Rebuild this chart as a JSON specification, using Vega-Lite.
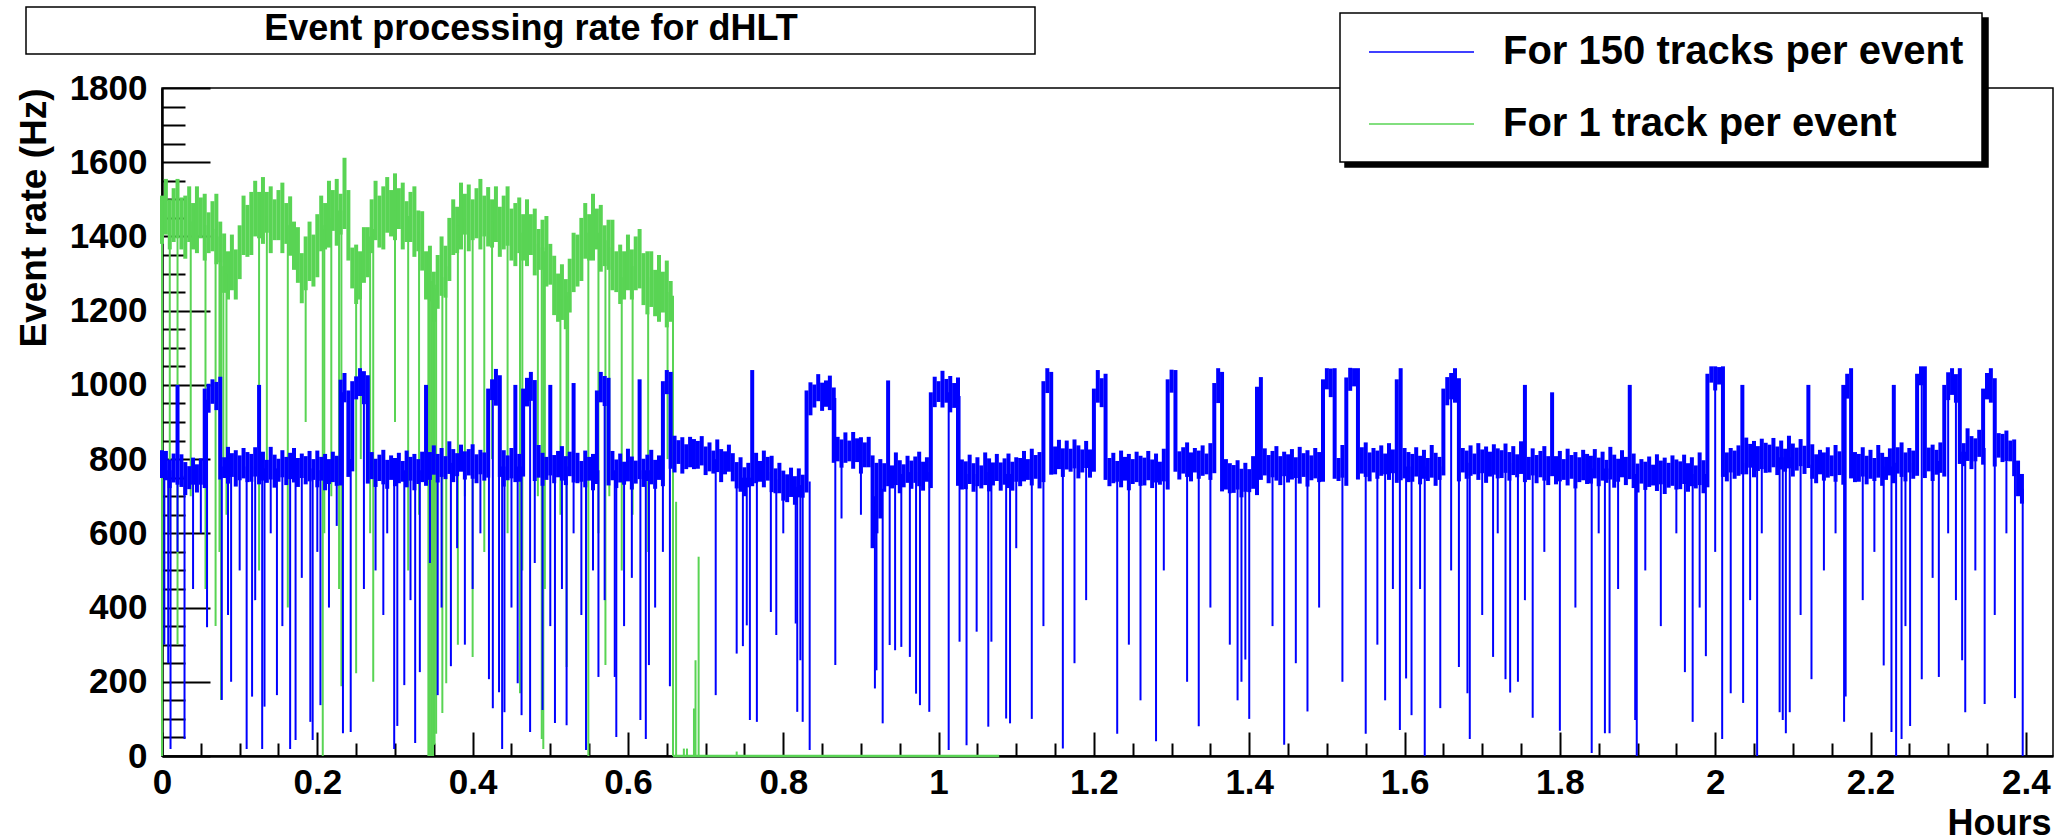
{
"$schema":"https://vega.github.io/schema/vega-lite/v6.json",
"width":1891,"height":668,
"autosize":{"type":"none"},
"padding":{"left":162,"top":88,"right":12,"bottom":81},
"background":"white",
"config":{
"font":"Liberation Sans",
"view":{"stroke":"black","strokeWidth":1.5},
"axis":{"grid":false,"domainColor":"black","domainWidth":2.5,"tickColor":"black","tickWidth":2,"labelFont":"Liberation Sans","labelFontWeight":"bold","labelFontSize":35,"labelColor":"black","titleFont":"Liberation Sans","titleFontWeight":"bold","titleColor":"black","labelOverlap":false,"labelFlush":false,"labelBound":false,"zindex":1},
"legend":{"orient":"none","legendX":1178,"legendY":-75,"strokeColor":"black","strokeWidth":1.5,"fillColor":"white","padding":18,"symbolType":"M-0.5,0H4.75","symbolSize":1600,"symbolStrokeWidth":1.5,"labelFont":"Liberation Sans","labelFontWeight":"bold","labelFontSize":40,"labelColor":"black","labelOffset":103,"rowPadding":31,"labelLimit":900}
},
"datasets":{
"greenBand":[
{"t":0,"l":1380,"h":1510},{"t":0.005,"l":1405,"h":1555},{"t":0.01,"l":1365,"h":1500},{"t":0.015,"l":1385,"h":1530},{"t":0.02,"l":1395,"h":1555},{"t":0.025,"l":1365,"h":1505},{"t":0.03,"l":1340,"h":1510},{"t":0.035,"l":1385,"h":1535},{"t":0.04,"l":1365,"h":1490},{"t":0.045,"l":1355,"h":1535},{"t":0.05,"l":1395,"h":1505},{"t":0.055,"l":1335,"h":1515},{"t":0.06,"l":1355,"h":1465},{"t":0.065,"l":1360,"h":1495},{"t":0.07,"l":1325,"h":1515},{"t":0.075,"l":1330,"h":1440},{"t":0.08,"l":1248,"h":1408},{"t":0.085,"l":1230,"h":1360},{"t":0.09,"l":1255,"h":1405},{"t":0.095,"l":1230,"h":1365},{"t":0.1,"l":1285,"h":1430},{"t":0.105,"l":1350,"h":1510},{"t":0.11,"l":1345,"h":1485},{"t":0.115,"l":1350,"h":1520},{"t":0.12,"l":1400,"h":1550},{"t":0.125,"l":1395,"h":1520},{"t":0.13,"l":1380,"h":1560},{"t":0.135,"l":1410,"h":1520},{"t":0.14,"l":1355,"h":1535},{"t":0.145,"l":1390,"h":1500},{"t":0.15,"l":1390,"h":1525},{"t":0.155,"l":1355,"h":1545},{"t":0.16,"l":1380,"h":1490},{"t":0.165,"l":1348,"h":1508},{"t":0.17,"l":1310,"h":1440},{"t":0.175,"l":1275,"h":1425},{"t":0.18,"l":1220,"h":1355},{"t":0.185,"l":1255,"h":1400},{"t":0.19,"l":1280,"h":1440},{"t":0.195,"l":1265,"h":1405},{"t":0.2,"l":1290,"h":1460},{"t":0.205,"l":1360,"h":1510},{"t":0.21,"l":1365,"h":1490},{"t":0.215,"l":1370,"h":1550},{"t":0.22,"l":1415,"h":1525},{"t":0.225,"l":1375,"h":1555},{"t":0.23,"l":1405,"h":1515},{"t":0.235,"l":1420,"h":1612},{"t":0.24,"l":1335,"h":1525},{"t":0.245,"l":1260,"h":1370},{"t":0.25,"l":1218,"h":1378},{"t":0.255,"l":1230,"h":1360},{"t":0.26,"l":1275,"h":1425},{"t":0.265,"l":1290,"h":1425},{"t":0.27,"l":1355,"h":1500},{"t":0.275,"l":1390,"h":1550},{"t":0.28,"l":1370,"h":1510},{"t":0.285,"l":1365,"h":1535},{"t":0.29,"l":1410,"h":1560},{"t":0.295,"l":1400,"h":1525},{"t":0.3,"l":1390,"h":1570},{"t":0.305,"l":1420,"h":1530},{"t":0.31,"l":1365,"h":1545},{"t":0.315,"l":1385,"h":1495},{"t":0.32,"l":1385,"h":1520},{"t":0.325,"l":1345,"h":1535},{"t":0.33,"l":1360,"h":1470},{"t":0.335,"l":1308,"h":1468},{"t":0.34,"l":1230,"h":1360},{"t":0.345,"l":1225,"h":1375},{"t":0.35,"l":1170,"h":1305},{"t":0.355,"l":1205,"h":1350},{"t":0.36,"l":1240,"h":1400},{"t":0.365,"l":1235,"h":1375},{"t":0.37,"l":1280,"h":1450},{"t":0.375,"l":1350,"h":1500},{"t":0.38,"l":1355,"h":1480},{"t":0.385,"l":1365,"h":1545},{"t":0.39,"l":1405,"h":1515},{"t":0.395,"l":1360,"h":1540},{"t":0.4,"l":1390,"h":1500},{"t":0.405,"l":1395,"h":1530},{"t":0.41,"l":1365,"h":1555},{"t":0.415,"l":1400,"h":1510},{"t":0.42,"l":1373,"h":1533},{"t":0.425,"l":1370,"h":1500},{"t":0.43,"l":1385,"h":1535},{"t":0.435,"l":1345,"h":1480},{"t":0.44,"l":1365,"h":1510},{"t":0.445,"l":1375,"h":1535},{"t":0.45,"l":1335,"h":1475},{"t":0.455,"l":1320,"h":1490},{"t":0.46,"l":1355,"h":1505},{"t":0.465,"l":1335,"h":1460},{"t":0.47,"l":1320,"h":1500},{"t":0.475,"l":1350,"h":1460},{"t":0.48,"l":1295,"h":1475},{"t":0.485,"l":1310,"h":1420},{"t":0.49,"l":1310,"h":1445},{"t":0.495,"l":1265,"h":1455},{"t":0.5,"l":1270,"h":1380},{"t":0.505,"l":1188,"h":1348},{"t":0.51,"l":1170,"h":1300},{"t":0.515,"l":1175,"h":1325},{"t":0.52,"l":1150,"h":1285},{"t":0.525,"l":1195,"h":1340},{"t":0.53,"l":1250,"h":1410},{"t":0.535,"l":1265,"h":1405},{"t":0.54,"l":1280,"h":1450},{"t":0.545,"l":1340,"h":1490},{"t":0.55,"l":1335,"h":1460},{"t":0.555,"l":1335,"h":1515},{"t":0.56,"l":1365,"h":1475},{"t":0.565,"l":1305,"h":1485},{"t":0.57,"l":1320,"h":1430},{"t":0.575,"l":1310,"h":1445},{"t":0.58,"l":1255,"h":1445},{"t":0.585,"l":1250,"h":1360},{"t":0.59,"l":1218,"h":1378},{"t":0.595,"l":1230,"h":1360},{"t":0.6,"l":1255,"h":1405},{"t":0.605,"l":1230,"h":1365},{"t":0.61,"l":1255,"h":1400},{"t":0.615,"l":1260,"h":1420},{"t":0.62,"l":1215,"h":1355},{"t":0.625,"l":1190,"h":1360},{"t":0.63,"l":1210,"h":1360},{"t":0.635,"l":1185,"h":1310},{"t":0.64,"l":1170,"h":1350},{"t":0.645,"l":1195,"h":1305},{"t":0.65,"l":1155,"h":1335},{"t":0.655,"l":1170,"h":1280}
],
"greenDips":[
{"t":0,"l":0,"h":1450},{"t":0.01,"l":600,"h":1450},{"t":0.02,"l":300,"h":1445},{"t":0.037,"l":700,"h":1440},{"t":0.056,"l":450,"h":1430},{"t":0.069,"l":350,"h":1420},{"t":0.074,"l":550,"h":1400},{"t":0.076,"l":151,"h":1380},{"t":0.079,"l":800,"h":1320},{"t":0.083,"l":650,"h":1300},{"t":0.125,"l":500,"h":1470},{"t":0.135,"l":750,"h":1455},{"t":0.162,"l":400,"h":1430},{"t":0.185,"l":900,"h":1320},{"t":0.207,"l":0,"h":1420},{"t":0.209,"l":600,"h":1430},{"t":0.218,"l":700,"h":1450},{"t":0.228,"l":450,"h":1470},{"t":0.231,"l":188,"h":1470},{"t":0.25,"l":223,"h":1290},{"t":0.256,"l":800,"h":1300},{"t":0.268,"l":600,"h":1400},{"t":0.272,"l":200,"h":1420},{"t":0.3,"l":900,"h":1470},{"t":0.317,"l":500,"h":1455},{"t":0.331,"l":650,"h":1410},{"t":0.343,"l":0,"h":1300},{"t":0.345,"l":0,"h":1280},{"t":0.347,"l":0,"h":1280},{"t":0.349,"l":0,"h":1260},{"t":0.351,"l":30,"h":1260},{"t":0.353,"l":60,"h":1270},{"t":0.361,"l":116,"h":1290},{"t":0.366,"l":196,"h":1320},{"t":0.381,"l":300,"h":1430},{"t":0.39,"l":700,"h":1450},{"t":0.4,"l":267,"h":1460},{"t":0.415,"l":550,"h":1450},{"t":0.425,"l":800,"h":1440},{"t":0.445,"l":600,"h":1425},{"t":0.461,"l":169,"h":1415},{"t":0.464,"l":500,"h":1410},{"t":0.484,"l":700,"h":1380},{"t":0.489,"l":46,"h":1370},{"t":0.491,"l":19,"h":1370},{"t":0.493,"l":450,"h":1360},{"t":0.513,"l":650,"h":1230},{"t":0.521,"l":240,"h":1240},{"t":0.523,"l":800,"h":1250},{"t":0.549,"l":0,"h":1410},{"t":0.562,"l":600,"h":1410},{"t":0.571,"l":245,"h":1390},{"t":0.576,"l":700,"h":1370},{"t":0.592,"l":500,"h":1290},{"t":0.606,"l":650,"h":1320},{"t":0.626,"l":550,"h":1290},{"t":0.651,"l":800,"h":1250},{"t":0.658,"l":0,"h":1240},
{"t":0.662,"l":0,"h":685},{"t":0.672,"l":0,"h":20},{"t":0.676,"l":0,"h":20},{"t":0.685,"l":0,"h":128},{"t":0.687,"l":0,"h":258},{"t":0.691,"l":0,"h":537},{"t":0.74,"l":0,"h":12}
],
"greenZero":[{"t":0.658,"t2":1.078,"l":0,"h":0}],
"blueBand":[
{"t":0,"l":749,"h":824},{"t":0.005,"l":743,"h":822},{"t":0.01,"l":722,"h":799},{"t":0.015,"l":737,"h":815},{"t":0.02,"l":731,"h":1000},{"t":0.025,"l":725,"h":813},{"t":0.03,"l":703,"h":792},{"t":0.035,"l":719,"h":781},{"t":0.04,"l":731,"h":804},{"t":0.045,"l":710,"h":786},{"t":0.05,"l":731,"h":802},{"t":0.055,"l":722,"h":990},{"t":0.06,"l":925,"h":1003},{"t":0.065,"l":949,"h":1015},{"t":0.07,"l":932,"h":1008},{"t":0.075,"l":745,"h":1022},{"t":0.08,"l":749,"h":805},{"t":0.085,"l":734,"h":833},{"t":0.09,"l":752,"h":816},{"t":0.095,"l":726,"h":824},{"t":0.1,"l":743,"h":810},{"t":0.105,"l":748,"h":830},{"t":0.11,"l":738,"h":819},{"t":0.115,"l":739,"h":814},{"t":0.12,"l":753,"h":832},{"t":0.125,"l":732,"h":1000},{"t":0.13,"l":742,"h":820},{"t":0.135,"l":736,"h":798},{"t":0.14,"l":745,"h":833},{"t":0.145,"l":723,"h":812},{"t":0.15,"l":739,"h":801},{"t":0.155,"l":751,"h":824},{"t":0.16,"l":730,"h":806},{"t":0.165,"l":746,"h":817},{"t":0.17,"l":737,"h":830},{"t":0.175,"l":725,"h":803},{"t":0.18,"l":749,"h":815},{"t":0.185,"l":732,"h":808},{"t":0.19,"l":740,"h":822},{"t":0.195,"l":744,"h":800},{"t":0.2,"l":724,"h":823},{"t":0.205,"l":742,"h":806},{"t":0.21,"l":716,"h":814},{"t":0.215,"l":733,"h":800},{"t":0.22,"l":738,"h":820},{"t":0.225,"l":728,"h":809},{"t":0.23,"l":729,"h":1014},{"t":0.235,"l":953,"h":1032},{"t":0.24,"l":752,"h":985},{"t":0.245,"l":767,"h":1010},{"t":0.25,"l":961,"h":1023},{"t":0.255,"l":970,"h":1045},{"t":0.26,"l":948,"h":1037},{"t":0.265,"l":734,"h":1026},{"t":0.27,"l":746,"h":819},{"t":0.275,"l":725,"h":801},{"t":0.28,"l":741,"h":812},{"t":0.285,"l":732,"h":825},{"t":0.29,"l":720,"h":798},{"t":0.295,"l":744,"h":810},{"t":0.3,"l":727,"h":803},{"t":0.305,"l":735,"h":817},{"t":0.31,"l":739,"h":795},{"t":0.315,"l":724,"h":823},{"t":0.32,"l":742,"h":806},{"t":0.325,"l":716,"h":814},{"t":0.33,"l":733,"h":800},{"t":0.335,"l":738,"h":820},{"t":0.34,"l":728,"h":1000},{"t":0.345,"l":744,"h":819},{"t":0.35,"l":758,"h":837},{"t":0.355,"l":737,"h":814},{"t":0.36,"l":752,"h":830},{"t":0.365,"l":746,"h":808},{"t":0.37,"l":760,"h":848},{"t":0.375,"l":738,"h":827},{"t":0.38,"l":754,"h":816},{"t":0.385,"l":766,"h":839},{"t":0.39,"l":745,"h":821},{"t":0.395,"l":756,"h":827},{"t":0.4,"l":747,"h":840},{"t":0.405,"l":735,"h":813},{"t":0.41,"l":759,"h":825},{"t":0.415,"l":742,"h":818},{"t":0.42,"l":750,"h":990},{"t":0.425,"l":959,"h":1015},{"t":0.43,"l":944,"h":1043},{"t":0.435,"l":752,"h":1026},{"t":0.44,"l":726,"h":824},{"t":0.445,"l":743,"h":810},{"t":0.45,"l":748,"h":830},{"t":0.455,"l":738,"h":1000},{"t":0.46,"l":739,"h":814},{"t":0.465,"l":753,"h":990},{"t":0.47,"l":942,"h":1019},{"t":0.475,"l":957,"h":1035},{"t":0.48,"l":741,"h":1013},{"t":0.485,"l":750,"h":838},{"t":0.49,"l":728,"h":817},{"t":0.495,"l":744,"h":806},{"t":0.5,"l":756,"h":1000},{"t":0.505,"l":735,"h":811},{"t":0.51,"l":751,"h":822},{"t":0.515,"l":742,"h":835},{"t":0.52,"l":730,"h":808},{"t":0.525,"l":754,"h":820},{"t":0.53,"l":737,"h":1005},{"t":0.535,"l":735,"h":817},{"t":0.54,"l":739,"h":795},{"t":0.545,"l":724,"h":823},{"t":0.55,"l":742,"h":806},{"t":0.555,"l":716,"h":814},{"t":0.56,"l":733,"h":985},{"t":0.565,"l":953,"h":1035},{"t":0.57,"l":943,"h":1024},{"t":0.575,"l":729,"h":1019},{"t":0.58,"l":743,"h":822},{"t":0.585,"l":722,"h":799},{"t":0.59,"l":737,"h":815},{"t":0.595,"l":731,"h":793},{"t":0.6,"l":740,"h":828},{"t":0.605,"l":718,"h":807},{"t":0.61,"l":734,"h":796},{"t":0.615,"l":746,"h":1015},{"t":0.62,"l":725,"h":801},{"t":0.625,"l":741,"h":812},{"t":0.63,"l":732,"h":825},{"t":0.635,"l":720,"h":798},{"t":0.64,"l":744,"h":810},{"t":0.645,"l":727,"h":1010},{"t":0.65,"l":975,"h":1040},{"t":0.655,"l":774,"h":1035},{"t":0.66,"l":764,"h":863},{"t":0.665,"l":787,"h":851},{"t":0.67,"l":761,"h":859},{"t":0.675,"l":773,"h":840},{"t":0.68,"l":778,"h":860},{"t":0.685,"l":773,"h":854},{"t":0.69,"l":774,"h":849},{"t":0.695,"l":783,"h":862},{"t":0.7,"l":757,"h":834},{"t":0.705,"l":767,"h":845},{"t":0.71,"l":761,"h":823},{"t":0.715,"l":765,"h":853},{"t":0.72,"l":738,"h":827},{"t":0.725,"l":759,"h":821},{"t":0.73,"l":766,"h":839},{"t":0.735,"l":740,"h":816},{"t":0.74,"l":721,"h":792},{"t":0.745,"l":712,"h":805},{"t":0.75,"l":700,"h":778},{"t":0.755,"l":724,"h":790},{"t":0.76,"l":727,"h":1040},{"t":0.765,"l":735,"h":817},{"t":0.77,"l":739,"h":795},{"t":0.775,"l":724,"h":823},{"t":0.78,"l":742,"h":806},{"t":0.785,"l":711,"h":809},{"t":0.79,"l":708,"h":775},{"t":0.795,"l":708,"h":790},{"t":0.8,"l":688,"h":769},{"t":0.805,"l":684,"h":759},{"t":0.81,"l":698,"h":777},{"t":0.815,"l":677,"h":754},{"t":0.82,"l":697,"h":775},{"t":0.825,"l":696,"h":758},{"t":0.83,"l":710,"h":985},{"t":0.835,"l":918,"h":1007},{"t":0.84,"l":939,"h":1001},{"t":0.845,"l":956,"h":1029},{"t":0.85,"l":930,"h":1006},{"t":0.855,"l":941,"h":1012},{"t":0.86,"l":932,"h":1025},{"t":0.865,"l":790,"h":993},{"t":0.87,"l":794,"h":860},{"t":0.875,"l":777,"h":853},{"t":0.88,"l":790,"h":872},{"t":0.885,"l":794,"h":850},{"t":0.89,"l":774,"h":873},{"t":0.895,"l":792,"h":856},{"t":0.9,"l":761,"h":859},{"t":0.905,"l":778,"h":845},{"t":0.91,"l":778,"h":860},{"t":0.915,"l":560,"h":810},{"t":0.92,"l":600,"h":790},{"t":0.925,"l":640,"h":800},{"t":0.93,"l":712,"h":789},{"t":0.935,"l":727,"h":1012},{"t":0.94,"l":721,"h":783},{"t":0.945,"l":730,"h":818},{"t":0.95,"l":708,"h":797},{"t":0.955,"l":724,"h":786},{"t":0.96,"l":736,"h":809},{"t":0.965,"l":720,"h":796},{"t":0.97,"l":736,"h":807},{"t":0.975,"l":727,"h":820},{"t":0.98,"l":715,"h":793},{"t":0.985,"l":739,"h":805},{"t":0.99,"l":722,"h":980},{"t":0.995,"l":940,"h":1022},{"t":1,"l":954,"h":1010},{"t":1.005,"l":939,"h":1038},{"t":1.01,"l":952,"h":1016},{"t":1.015,"l":926,"h":1024},{"t":1.02,"l":938,"h":1005},{"t":1.025,"l":728,"h":1020},{"t":1.03,"l":718,"h":799},{"t":1.035,"l":719,"h":794},{"t":1.04,"l":733,"h":812},{"t":1.045,"l":712,"h":789},{"t":1.05,"l":727,"h":805},{"t":1.055,"l":721,"h":783},{"t":1.06,"l":730,"h":818},{"t":1.065,"l":713,"h":802},{"t":1.07,"l":729,"h":791},{"t":1.075,"l":741,"h":814},{"t":1.08,"l":715,"h":791},{"t":1.085,"l":731,"h":802},{"t":1.09,"l":722,"h":815},{"t":1.095,"l":715,"h":793},{"t":1.1,"l":739,"h":805},{"t":1.105,"l":727,"h":803},{"t":1.11,"l":740,"h":822},{"t":1.115,"l":744,"h":800},{"t":1.12,"l":729,"h":828},{"t":1.125,"l":747,"h":811},{"t":1.13,"l":721,"h":819},{"t":1.135,"l":738,"h":1010},{"t":1.14,"l":978,"h":1045},{"t":1.145,"l":758,"h":1035},{"t":1.15,"l":759,"h":834},{"t":1.155,"l":773,"h":852},{"t":1.16,"l":752,"h":829},{"t":1.165,"l":772,"h":850},{"t":1.17,"l":766,"h":828},{"t":1.175,"l":775,"h":853},{"t":1.18,"l":748,"h":837},{"t":1.185,"l":764,"h":826},{"t":1.19,"l":776,"h":849},{"t":1.195,"l":750,"h":826},{"t":1.2,"l":766,"h":990},{"t":1.205,"l":952,"h":1040},{"t":1.21,"l":940,"h":1018},{"t":1.215,"l":744,"h":1030},{"t":1.22,"l":727,"h":803},{"t":1.225,"l":735,"h":817},{"t":1.23,"l":739,"h":795},{"t":1.235,"l":724,"h":823},{"t":1.24,"l":742,"h":806},{"t":1.245,"l":716,"h":814},{"t":1.25,"l":733,"h":800},{"t":1.255,"l":738,"h":820},{"t":1.26,"l":728,"h":809},{"t":1.265,"l":729,"h":804},{"t":1.27,"l":743,"h":822},{"t":1.275,"l":722,"h":799},{"t":1.28,"l":737,"h":815},{"t":1.285,"l":731,"h":793},{"t":1.29,"l":740,"h":828},{"t":1.295,"l":718,"h":1015},{"t":1.3,"l":979,"h":1041},{"t":1.305,"l":766,"h":1040},{"t":1.31,"l":745,"h":821},{"t":1.315,"l":761,"h":832},{"t":1.32,"l":752,"h":845},{"t":1.325,"l":740,"h":818},{"t":1.33,"l":764,"h":830},{"t":1.335,"l":747,"h":823},{"t":1.34,"l":755,"h":837},{"t":1.345,"l":759,"h":815},{"t":1.35,"l":744,"h":843},{"t":1.355,"l":762,"h":1005},{"t":1.36,"l":951,"h":1045},{"t":1.365,"l":713,"h":1035},{"t":1.37,"l":718,"h":800},{"t":1.375,"l":708,"h":789},{"t":1.38,"l":709,"h":784},{"t":1.385,"l":718,"h":797},{"t":1.39,"l":697,"h":774},{"t":1.395,"l":712,"h":790},{"t":1.4,"l":711,"h":773},{"t":1.405,"l":720,"h":808},{"t":1.41,"l":703,"h":995},{"t":1.415,"l":744,"h":1021},{"t":1.42,"l":756,"h":829},{"t":1.425,"l":735,"h":811},{"t":1.43,"l":751,"h":822},{"t":1.435,"l":742,"h":835},{"t":1.44,"l":730,"h":808},{"t":1.445,"l":754,"h":820},{"t":1.45,"l":737,"h":813},{"t":1.455,"l":745,"h":827},{"t":1.46,"l":749,"h":805},{"t":1.465,"l":734,"h":833},{"t":1.47,"l":752,"h":816},{"t":1.475,"l":726,"h":824},{"t":1.48,"l":743,"h":810},{"t":1.485,"l":748,"h":830},{"t":1.49,"l":738,"h":819},{"t":1.495,"l":739,"h":1015},{"t":1.5,"l":988,"h":1045},{"t":1.505,"l":967,"h":1044},{"t":1.51,"l":747,"h":1045},{"t":1.515,"l":741,"h":803},{"t":1.52,"l":750,"h":838},{"t":1.525,"l":728,"h":1020},{"t":1.53,"l":984,"h":1046},{"t":1.535,"l":996,"h":1045},{"t":1.54,"l":745,"h":1045},{"t":1.545,"l":761,"h":832},{"t":1.55,"l":752,"h":845},{"t":1.555,"l":740,"h":818},{"t":1.56,"l":764,"h":830},{"t":1.565,"l":747,"h":823},{"t":1.57,"l":755,"h":837},{"t":1.575,"l":759,"h":815},{"t":1.58,"l":744,"h":843},{"t":1.585,"l":762,"h":826},{"t":1.59,"l":736,"h":1015},{"t":1.595,"l":743,"h":1045},{"t":1.6,"l":748,"h":830},{"t":1.605,"l":738,"h":819},{"t":1.61,"l":739,"h":814},{"t":1.615,"l":753,"h":832},{"t":1.62,"l":732,"h":809},{"t":1.625,"l":747,"h":825},{"t":1.63,"l":741,"h":803},{"t":1.635,"l":750,"h":838},{"t":1.64,"l":728,"h":817},{"t":1.645,"l":744,"h":806},{"t":1.65,"l":756,"h":990},{"t":1.655,"l":945,"h":1021},{"t":1.66,"l":961,"h":1032},{"t":1.665,"l":952,"h":1045},{"t":1.67,"l":740,"h":1018},{"t":1.675,"l":764,"h":830},{"t":1.68,"l":747,"h":823},{"t":1.685,"l":755,"h":837},{"t":1.69,"l":759,"h":815},{"t":1.695,"l":744,"h":843},{"t":1.7,"l":762,"h":826},{"t":1.705,"l":736,"h":834},{"t":1.71,"l":753,"h":820},{"t":1.715,"l":758,"h":840},{"t":1.72,"l":748,"h":829},{"t":1.725,"l":749,"h":824},{"t":1.73,"l":763,"h":842},{"t":1.735,"l":742,"h":819},{"t":1.74,"l":757,"h":835},{"t":1.745,"l":751,"h":813},{"t":1.75,"l":760,"h":848},{"t":1.755,"l":738,"h":1000},{"t":1.76,"l":744,"h":806},{"t":1.765,"l":756,"h":829},{"t":1.77,"l":735,"h":811},{"t":1.775,"l":751,"h":822},{"t":1.78,"l":742,"h":835},{"t":1.785,"l":730,"h":808},{"t":1.79,"l":754,"h":980},{"t":1.795,"l":732,"h":808},{"t":1.8,"l":740,"h":822},{"t":1.805,"l":744,"h":800},{"t":1.81,"l":729,"h":828},{"t":1.815,"l":747,"h":811},{"t":1.82,"l":721,"h":819},{"t":1.825,"l":738,"h":805},{"t":1.83,"l":743,"h":825},{"t":1.835,"l":733,"h":814},{"t":1.84,"l":734,"h":809},{"t":1.845,"l":748,"h":827},{"t":1.85,"l":727,"h":804},{"t":1.855,"l":742,"h":820},{"t":1.86,"l":736,"h":798},{"t":1.865,"l":745,"h":833},{"t":1.87,"l":723,"h":812},{"t":1.875,"l":739,"h":801},{"t":1.88,"l":751,"h":824},{"t":1.885,"l":730,"h":806},{"t":1.89,"l":746,"h":1000},{"t":1.895,"l":722,"h":815},{"t":1.9,"l":710,"h":788},{"t":1.905,"l":734,"h":800},{"t":1.91,"l":717,"h":793},{"t":1.915,"l":725,"h":807},{"t":1.92,"l":729,"h":785},{"t":1.925,"l":714,"h":813},{"t":1.93,"l":732,"h":796},{"t":1.935,"l":706,"h":804},{"t":1.94,"l":723,"h":790},{"t":1.945,"l":728,"h":810},{"t":1.95,"l":718,"h":799},{"t":1.955,"l":719,"h":794},{"t":1.96,"l":733,"h":812},{"t":1.965,"l":712,"h":789},{"t":1.97,"l":727,"h":805},{"t":1.975,"l":721,"h":783},{"t":1.98,"l":730,"h":818},{"t":1.985,"l":708,"h":797},{"t":1.99,"l":724,"h":1030},{"t":1.995,"l":1006,"h":1050},{"t":2,"l":985,"h":1050},{"t":2.005,"l":1001,"h":1048},{"t":2.01,"l":752,"h":1050},{"t":2.015,"l":740,"h":818},{"t":2.02,"l":764,"h":830},{"t":2.025,"l":747,"h":823},{"t":2.03,"l":755,"h":837},{"t":2.035,"l":759,"h":1000},{"t":2.04,"l":759,"h":858},{"t":2.045,"l":777,"h":841},{"t":2.05,"l":751,"h":849},{"t":2.055,"l":768,"h":835},{"t":2.06,"l":773,"h":855},{"t":2.065,"l":763,"h":844},{"t":2.07,"l":764,"h":839},{"t":2.075,"l":778,"h":857},{"t":2.08,"l":757,"h":834},{"t":2.085,"l":772,"h":850},{"t":2.09,"l":766,"h":828},{"t":2.095,"l":775,"h":863},{"t":2.1,"l":753,"h":842},{"t":2.105,"l":769,"h":831},{"t":2.11,"l":781,"h":854},{"t":2.115,"l":760,"h":836},{"t":2.12,"l":776,"h":1000},{"t":2.125,"l":747,"h":840},{"t":2.13,"l":735,"h":813},{"t":2.135,"l":759,"h":825},{"t":2.14,"l":742,"h":818},{"t":2.145,"l":750,"h":832},{"t":2.15,"l":754,"h":810},{"t":2.155,"l":739,"h":838},{"t":2.16,"l":757,"h":821},{"t":2.165,"l":731,"h":1000},{"t":2.17,"l":963,"h":1030},{"t":2.175,"l":748,"h":1045},{"t":2.18,"l":738,"h":819},{"t":2.185,"l":739,"h":814},{"t":2.19,"l":753,"h":832},{"t":2.195,"l":732,"h":809},{"t":2.2,"l":747,"h":825},{"t":2.205,"l":741,"h":803},{"t":2.21,"l":750,"h":838},{"t":2.215,"l":728,"h":817},{"t":2.22,"l":744,"h":806},{"t":2.225,"l":756,"h":829},{"t":2.23,"l":735,"h":1000},{"t":2.235,"l":761,"h":832},{"t":2.24,"l":752,"h":845},{"t":2.245,"l":740,"h":818},{"t":2.25,"l":764,"h":830},{"t":2.255,"l":747,"h":823},{"t":2.26,"l":755,"h":1030},{"t":2.265,"l":999,"h":1050},{"t":2.27,"l":749,"h":1050},{"t":2.275,"l":767,"h":831},{"t":2.28,"l":741,"h":839},{"t":2.285,"l":758,"h":825},{"t":2.29,"l":763,"h":845},{"t":2.295,"l":753,"h":1000},{"t":2.3,"l":959,"h":1034},{"t":2.305,"l":973,"h":1045},{"t":2.31,"l":952,"h":1029},{"t":2.315,"l":787,"h":1045},{"t":2.32,"l":781,"h":843},{"t":2.325,"l":795,"h":883},{"t":2.33,"l":773,"h":862},{"t":2.335,"l":794,"h":856},{"t":2.34,"l":806,"h":879},{"t":2.345,"l":785,"h":990},{"t":2.35,"l":961,"h":1032},{"t":2.355,"l":952,"h":1045},{"t":2.36,"l":780,"h":1018},{"t":2.365,"l":804,"h":870},{"t":2.37,"l":792,"h":868},{"t":2.375,"l":795,"h":877},{"t":2.38,"l":794,"h":850},{"t":2.385,"l":754,"h":853},{"t":2.39,"l":700,"h":796},{"t":2.395,"l":680,"h":760}
],
"blueDips":[
{"t":0.003,"l":300,"h":790},{"t":0.008,"l":250,"h":770},{"t":0.011,"l":19,"h":770},{"t":0.02,"l":550,"h":770},{"t":0.029,"l":46,"h":755},{"t":0.04,"l":450,"h":755},{"t":0.05,"l":600,"h":760},{"t":0.058,"l":347,"h":960},{"t":0.077,"l":151,"h":780},{"t":0.085,"l":380,"h":780},{"t":0.089,"l":200,"h":780},{"t":0.1,"l":500,"h":780},{"t":0.109,"l":19,"h":780},{"t":0.116,"l":160,"h":780},{"t":0.12,"l":420,"h":780},{"t":0.129,"l":19,"h":775},{"t":0.132,"l":133,"h":775},{"t":0.14,"l":600,"h":775},{"t":0.148,"l":164,"h":775},{"t":0.155,"l":350,"h":775},{"t":0.165,"l":19,"h":775},{"t":0.172,"l":43,"h":775},{"t":0.18,"l":480,"h":775},{"t":0.191,"l":92,"h":775},{"t":0.194,"l":43,"h":775},{"t":0.2,"l":550,"h":770},{"t":0.204,"l":137,"h":770},{"t":0.215,"l":400,"h":770},{"t":0.225,"l":620,"h":770},{"t":0.233,"l":61,"h":980},{"t":0.243,"l":65,"h":800},{"t":0.26,"l":450,"h":1000},{"t":0.275,"l":500,"h":770},{"t":0.285,"l":380,"h":770},{"t":0.29,"l":600,"h":770},{"t":0.299,"l":19,"h":770},{"t":0.303,"l":81,"h":770},{"t":0.312,"l":191,"h":770},{"t":0.32,"l":420,"h":770},{"t":0.326,"l":35,"h":770},{"t":0.332,"l":226,"h":770},{"t":0.345,"l":520,"h":785},{"t":0.355,"l":164,"h":785},{"t":0.36,"l":400,"h":785},{"t":0.372,"l":242,"h":790},{"t":0.38,"l":560,"h":790},{"t":0.39,"l":300,"h":790},{"t":0.4,"l":450,"h":785},{"t":0.41,"l":600,"h":785},{"t":0.421,"l":207,"h":785},{"t":0.426,"l":129,"h":990},{"t":0.434,"l":172,"h":990},{"t":0.438,"l":19,"h":780},{"t":0.441,"l":118,"h":780},{"t":0.45,"l":400,"h":780},{"t":0.458,"l":196,"h":780},{"t":0.463,"l":110,"h":780},{"t":0.474,"l":65,"h":990},{"t":0.48,"l":520,"h":990},{"t":0.49,"l":124,"h":780},{"t":0.5,"l":350,"h":780},{"t":0.506,"l":89,"h":780},{"t":0.515,"l":450,"h":780},{"t":0.521,"l":83,"h":780},{"t":0.53,"l":600,"h":780},{"t":0.54,"l":380,"h":770},{"t":0.546,"l":16,"h":770},{"t":0.555,"l":500,"h":770},{"t":0.562,"l":213,"h":770},{"t":0.57,"l":420,"h":985},{"t":0.583,"l":213,"h":770},{"t":0.585,"l":51,"h":770},{"t":0.595,"l":350,"h":770},{"t":0.605,"l":480,"h":770},{"t":0.616,"l":97,"h":770},{"t":0.623,"l":46,"h":770},{"t":0.627,"l":245,"h":770},{"t":0.635,"l":400,"h":770},{"t":0.645,"l":550,"h":770},{"t":0.654,"l":188,"h":1010},
{"t":0.713,"l":164,"h":800},{"t":0.74,"l":276,"h":770},{"t":0.748,"l":296,"h":750},{"t":0.753,"l":352,"h":750},{"t":0.757,"l":97,"h":750},{"t":0.766,"l":92,"h":770},{"t":0.784,"l":388,"h":765},{"t":0.791,"l":326,"h":745},{"t":0.8,"l":600,"h":730},{"t":0.816,"l":357,"h":725},{"t":0.818,"l":119,"h":725},{"t":0.822,"l":258,"h":730},{"t":0.825,"l":92,"h":735},{"t":0.834,"l":16,"h":740},{"t":0.867,"l":245,"h":965},{"t":0.875,"l":640,"h":820},{"t":0.9,"l":650,"h":815},{"t":0.918,"l":182,"h":700},{"t":0.92,"l":231,"h":700},{"t":0.928,"l":88,"h":720},{"t":0.937,"l":299,"h":760},{"t":0.944,"l":285,"h":760},{"t":0.952,"l":294,"h":760},{"t":0.963,"l":267,"h":765},{"t":0.971,"l":168,"h":765},{"t":0.976,"l":137,"h":765},{"t":0.988,"l":119,"h":765},{"t":1.013,"l":16,"h":980},{"t":1.027,"l":308,"h":970},{"t":1.036,"l":29,"h":760},{"t":1.049,"l":335,"h":760},{"t":1.064,"l":79,"h":765},{"t":1.068,"l":308,"h":765},{"t":1.087,"l":101,"h":760},{"t":1.092,"l":88,"h":760},{"t":1.1,"l":560,"h":765},
{"t":1.12,"l":100,"h":775},{"t":1.135,"l":350,"h":775},{"t":1.16,"l":20,"h":800},{"t":1.175,"l":250,"h":805},{"t":1.19,"l":420,"h":800},{"t":1.23,"l":60,"h":770},{"t":1.245,"l":300,"h":770},{"t":1.26,"l":150,"h":770},{"t":1.28,"l":40,"h":770},{"t":1.29,"l":500,"h":770},{"t":1.32,"l":200,"h":790},{"t":1.335,"l":80,"h":790},{"t":1.35,"l":400,"h":790},{"t":1.375,"l":300,"h":750},{"t":1.385,"l":150,"h":745},{"t":1.39,"l":200,"h":745},{"t":1.395,"l":260,"h":745},{"t":1.4,"l":100,"h":750},{"t":1.43,"l":350,"h":780},{"t":1.445,"l":30,"h":780},{"t":1.46,"l":250,"h":780},{"t":1.475,"l":120,"h":780},{"t":1.49,"l":400,"h":780},{"t":1.52,"l":200,"h":780},{"t":1.55,"l":60,"h":790},{"t":1.565,"l":300,"h":790},{"t":1.575,"l":150,"h":790},{"t":1.585,"l":450,"h":790},
{"t":1.594,"l":70,"h":1000},{"t":1.602,"l":209,"h":780},{"t":1.609,"l":110,"h":780},{"t":1.62,"l":450,"h":780},{"t":1.626,"l":0,"h":780},{"t":1.646,"l":129,"h":780},{"t":1.66,"l":500,"h":990},{"t":1.67,"l":240,"h":990},{"t":1.681,"l":169,"h":790},{"t":1.684,"l":46,"h":790},{"t":1.7,"l":380,"h":790},{"t":1.714,"l":267,"h":790},{"t":1.72,"l":600,"h":790},{"t":1.73,"l":207,"h":790},{"t":1.736,"l":171,"h":790},{"t":1.746,"l":200,"h":790},{"t":1.755,"l":420,"h":790},{"t":1.765,"l":103,"h":780},{"t":1.78,"l":550,"h":780},{"t":1.8,"l":68,"h":775},{"t":1.82,"l":400,"h":775},{"t":1.841,"l":8,"h":775},{"t":1.85,"l":600,"h":775},{"t":1.858,"l":61,"h":775},{"t":1.864,"l":61,"h":775},{"t":1.875,"l":450,"h":775},{"t":1.897,"l":97,"h":760},{"t":1.899,"l":0,"h":760},{"t":1.91,"l":500,"h":760},{"t":1.93,"l":350,"h":760},{"t":1.95,"l":600,"h":760},{"t":1.961,"l":226,"h":760},{"t":1.971,"l":92,"h":760},{"t":1.98,"l":400,"h":760},{"t":1.988,"l":269,"h":760},{"t":2,"l":550,"h":1030},{"t":2.009,"l":46,"h":1030},{"t":2.02,"l":169,"h":790},{"t":2.036,"l":143,"h":790},{"t":2.045,"l":420,"h":805},{"t":2.054,"l":0,"h":805},{"t":2.06,"l":600,"h":805},{"t":2.083,"l":118,"h":805},{"t":2.087,"l":97,"h":805},{"t":2.091,"l":61,"h":805},{"t":2.096,"l":118,"h":805},{"t":2.11,"l":380,"h":805},{"t":2.124,"l":207,"h":785},{"t":2.14,"l":500,"h":785},{"t":2.155,"l":600,"h":785},{"t":2.166,"l":92,"h":785},{"t":2.168,"l":160,"h":1000},{"t":2.19,"l":420,"h":780},{"t":2.205,"l":550,"h":780},{"t":2.217,"l":244,"h":780},{"t":2.227,"l":65,"h":780},{"t":2.233,"l":0,"h":790},{"t":2.24,"l":46,"h":790},{"t":2.245,"l":350,"h":790},{"t":2.251,"l":81,"h":790},{"t":2.266,"l":207,"h":1030},{"t":2.28,"l":480,"h":795},{"t":2.288,"l":213,"h":795},{"t":2.3,"l":600,"h":1000},{"t":2.31,"l":420,"h":1000},{"t":2.318,"l":258,"h":820},{"t":2.322,"l":118,"h":820},{"t":2.335,"l":500,"h":830},{"t":2.347,"l":140,"h":830},{"t":2.36,"l":380,"h":990},{"t":2.375,"l":600,"h":830},{"t":2.386,"l":156,"h":800},{"t":2.396,"l":0,"h":720}
]
},
"encoding":{
"x":{"field":"t","type":"quantitative","scale":{"domain":[0,2.435],"nice":false,"zero":false},
"axis":{"title":"Hours","values":[0,0.05,0.1,0.15,0.2,0.25,0.3,0.35,0.4,0.45,0.5,0.55,0.6,0.65,0.7,0.75,0.8,0.85,0.9,0.95,1,1.05,1.1,1.15,1.2,1.25,1.3,1.35,1.4,1.45,1.5,1.55,1.6,1.65,1.7,1.75,1.8,1.85,1.9,1.95,2,2.05,2.1,2.15,2.2,2.25,2.3,2.35,2.4],
"format":"~g","labelExpr":"abs(datum.value*5-round(datum.value*5))<0.001 ? datum.label : ''",
"tickSize":{"condition":{"test":"abs(datum.value*5-round(datum.value*5))<0.001","value":-24},"value":-13},
"labelPadding":33,"labelBaseline":"top","labelAlign":"center",
"titleFontSize":36,"titleX":1889,"titleY":78,"titleAlign":"right","titleBaseline":"alphabetic","titleAnchor":"end"}},
"y":{"field":"l","type":"quantitative","scale":{"domain":[0,1800],"nice":false,"zero":true},
"axis":{"title":"Event rate (Hz)","values":[0,50,100,150,200,250,300,350,400,450,500,550,600,650,700,750,800,850,900,950,1000,1050,1100,1150,1200,1250,1300,1350,1400,1450,1500,1550,1600,1650,1700,1750,1800],
"format":"d","labelExpr":"datum.value % 200 === 0 ? datum.label : ''",
"tickSize":{"condition":{"test":"datum.value % 200 === 0","value":-48},"value":-23},
"labelPadding":63,"labelAlign":"right","labelBaseline":"middle",
"titleFontSize":37,"titleX":-117,"titleY":0,"titleAngle":270,"titleAlign":"right","titleBaseline":"alphabetic","titleAnchor":"end"}},
"y2":{"field":"h"}
},
"layer":[
{"data":{"name":"greenBand"},"mark":{"type":"rule","strokeWidth":4},"encoding":{"color":{"datum":"For 1 track per event","type":"nominal","scale":{"domain":["For 150 tracks per event","For 1 track per event"],"range":["#0000FF","#59D454"]},"legend":{"title":null,"zindex":2}}}},
{"data":{"name":"greenDips"},"mark":{"type":"rule","strokeWidth":2},"encoding":{"color":{"datum":"For 1 track per event","type":"nominal"}}},
{"data":{"name":"greenZero"},"mark":{"type":"rule","strokeWidth":2.5},"encoding":{"x2":{"field":"t2"},"color":{"datum":"For 1 track per event","type":"nominal"},
"strokeDash":{"datum":"t","type":"nominal","scale":{"domain":["t"],"range":[[1,0]]},
"legend":{"title":"Event processing rate for dHLT","zindex":2,"orient":"none","legendX":-136,"legendY":-81,"strokeColor":"black","fillColor":"white","padding":5,"titleFont":"Liberation Sans","titleFontWeight":"bold","titleFontSize":36,"titleColor":"black","titleAnchor":"middle","titleAlign":"center","titleLimit":1200,"titlePadding":0,"titleBaseline":"top","labelExpr":"''","labelFontSize":1,"labelOffset":998,"symbolSize":1,"symbolOpacity":0,"symbolStrokeWidth":0,"symbolType":"circle","rowPadding":0}},
"strokeOpacity":{"datum":"u","type":"nominal","scale":{"domain":["u"],"range":[1]},
"legend":{"title":null,"zindex":1,"orient":"none","legendX":-132,"legendY":-77,"strokeColor":"black","fillColor":"black","padding":5,"labelExpr":"''","labelFontSize":1,"labelOffset":962,"symbolSize":1369,"symbolOpacity":0,"symbolStrokeWidth":0,"symbolType":"circle","rowPadding":0}}}},
{"data":{"name":"blueBand"},"mark":{"type":"rule","strokeWidth":4},"encoding":{"color":{"datum":"For 150 tracks per event","type":"nominal"},
"opacity":{"datum":"a","type":"nominal","scale":{"domain":["a","b"],"range":[1,1]},
"legend":{"title":null,"zindex":1,"legendX":1183,"legendY":-70,"fillColor":"black","strokeColor":"black","symbolOpacity":0,"labelExpr":"''","labelOffset":565}}}},
{"data":{"name":"blueDips"},"mark":{"type":"rule","strokeWidth":2},"encoding":{"color":{"datum":"For 150 tracks per event","type":"nominal"}}}
]
}
